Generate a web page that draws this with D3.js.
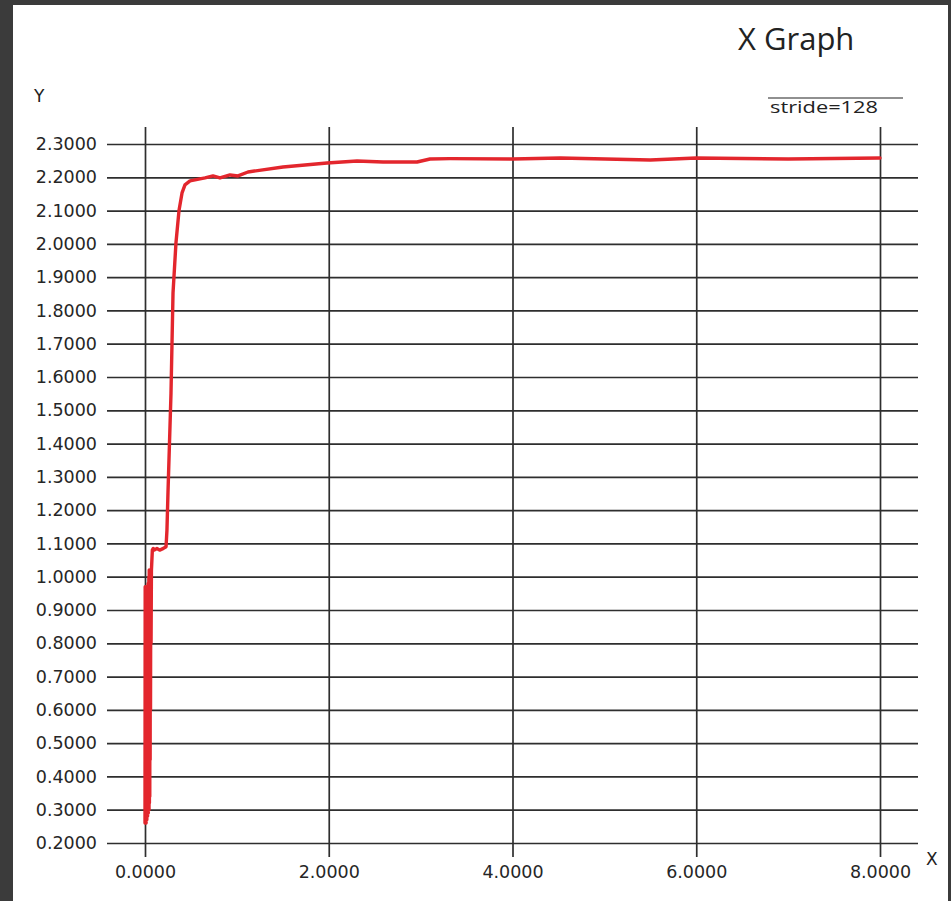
<!DOCTYPE html>
<html>
<head>
<meta charset="utf-8">
<script src="https://cdn.jsdelivr.net/npm/d3@7"></script>
<style>
  body { margin: 0; background: #3b3b3b; }
  svg { display: block; }
  .tick text { font-family: "DejaVu Sans", Verdana, sans-serif; font-size: 17.5px; fill: #262626; }
  .tick line { stroke: #2e2e2e; stroke-width: 1.7; }
</style>
</head>
<body>
<svg id="vis" width="951" height="901"></svg>
<script>
// tick values
const xTicks = [0, 2, 4, 6, 8];
const yTicks = [0.2, 0.3, 0.4, 0.5, 0.6, 0.7, 0.8, 0.9, 1.0, 1.1, 1.2, 1.3, 1.4, 1.5,
  1.6, 1.7, 1.8, 1.9, 2.0, 2.1, 2.2, 2.3];

// series (stride=128)
const xs = [0, 0.002, 0.004, 0.006, 0.008, 0.010, 0.012, 0.014, 0.016, 0.018,
  0.020, 0.022, 0.024, 0.026, 0.028, 0.030, 0.032, 0.034, 0.036, 0.038,
  0.040, 0.042, 0.044, 0.046, 0.048, 0.050, 0.052, 0.054, 0.056, 0.058,
  0.060, 0.063, 0.066, 0.070, 0.080, 0.090,
  0.100, 0.130, 0.160, 0.200, 0.229, 0.239, 0.250, 0.283, 0.305, 0.337,
  0.370, 0.403, 0.435, 0.490, 0.653, 0.740, 0.816, 0.925, 1.012, 1.121,
  1.502, 1.981, 2.308, 2.591, 2.961, 3.102, 3.320, 4.000, 4.520, 5.500,
  6.000, 7.000, 8.000];
const ys = [0.26, 0.97, 0.26, 0.96, 0.27, 0.97, 0.26, 0.95, 0.28, 0.97,
  0.27, 0.96, 0.29, 0.95, 0.28, 0.97, 0.30, 0.98, 0.29, 0.96,
  0.31, 1.00, 0.30, 1.02, 0.32, 1.01, 0.34, 1.00, 0.45, 1.02,
  0.60, 1.02, 0.80, 1.02, 1.08, 1.085,
  1.08, 1.085, 1.08, 1.085, 1.09, 1.14, 1.252, 1.552, 1.853, 2.003,
  2.100, 2.153, 2.177, 2.189, 2.198, 2.204, 2.198, 2.207, 2.204, 2.216,
  2.231, 2.243, 2.249, 2.246, 2.246, 2.255, 2.256, 2.255, 2.258, 2.252,
  2.258, 2.255, 2.258];

const svg = d3.select("svg#vis");

// dark frame + white sheet
svg.append("rect").attr("width", 951).attr("height", 901).attr("fill", "#3b3b3b");
svg.append("rect").attr("x", 13).attr("y", 5).attr("width", 935).attr("height", 896).attr("fill", "#fff");

const x = d3.scaleLinear().domain([0, 8]).range([145, 880]);
const y = d3.scaleLinear().domain([0.2, 2.3]).range([843, 144]);

const fmt = d3.format(".4f");

// horizontal grid + y labels
const yAxis = d3.axisLeft(y)
  .tickValues(yTicks)
  .tickFormat(fmt)
  .tickSize(811)
  .tickPadding(10);
svg.append("g")
  .attr("transform", "translate(918,0)")
  .call(yAxis)
  .call(g => g.select(".domain").remove());

// vertical grid + x labels
const xAxis = d3.axisBottom(x)
  .tickValues(xTicks)
  .tickFormat(fmt)
  .tickSize(730)
  .tickPadding(9);
svg.append("g")
  .attr("transform", "translate(0,127)")
  .call(xAxis)
  .call(g => g.select(".domain").remove());

// the series
const data = xs.map((d, i) => [d, ys[i]]);
const line = d3.line()
  .x(d => x(d[0]))
  .y(d => y(d[1]));

svg.append("path")
  .datum(data)
  .attr("d", line)
  .attr("fill", "none")
  .attr("stroke", "#e3262d")
  .attr("stroke-width", 3.4)
  .attr("stroke-linejoin", "round")
  .attr("stroke-linecap", "round");

// titles and labels
svg.append("text")
  .attr("x", 738).attr("y", 50)
  .attr("font-family", "'Open Sans', sans-serif")
  .attr("font-size", 31)
  .attr("fill", "#222")
  .text("X Graph");

svg.append("text")
  .attr("x", 34).attr("y", 102)
  .attr("font-family", "'DejaVu Sans', sans-serif")
  .attr("font-size", 17)
  .attr("fill", "#222")
  .text("Y");

svg.append("text")
  .attr("x", 926).attr("y", 865)
  .attr("font-family", "'DejaVu Sans', sans-serif")
  .attr("font-size", 17)
  .attr("fill", "#222")
  .text("X");

// legend
svg.append("line")
  .attr("x1", 768).attr("x2", 903)
  .attr("y1", 98).attr("y2", 98)
  .attr("stroke", "#222")
  .attr("stroke-width", 1.2);

svg.append("text")
  .attr("x", 770).attr("y", 113)
  .attr("font-family", "'Open Sans', sans-serif")
  .attr("font-size", 15.5)
  .attr("textLength", 108)
  .attr("lengthAdjust", "spacingAndGlyphs")
  .attr("fill", "#222")
  .text("stride=128");
</script>
</body>
</html>
